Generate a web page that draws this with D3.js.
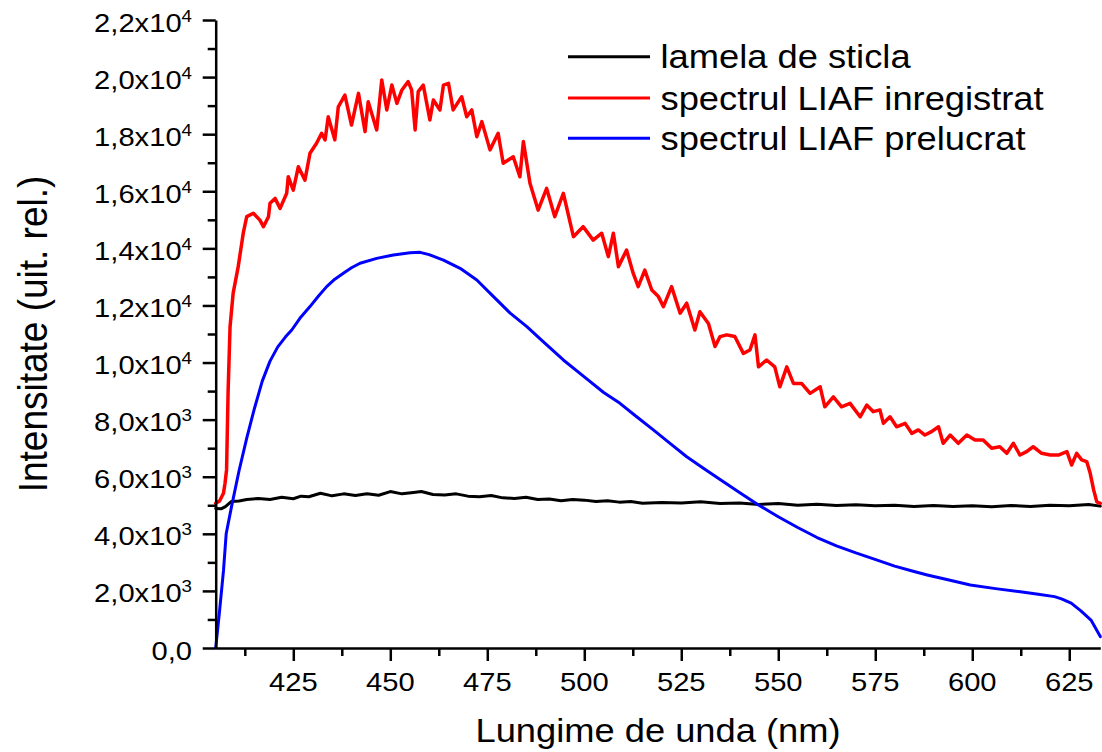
<!DOCTYPE html>
<html><head><meta charset="utf-8">
<script src="https://cdn.jsdelivr.net/npm/d3@7"></script>
<style>
body{margin:0;background:#fff}
svg{display:block;background:#fff}
text{font-family:"Liberation Sans",Arial,sans-serif;fill:#000}
</style>
</head><body>
<svg id="c" width="1102" height="752"></svg>
<script>
// ---------- data ----------
const xDomain = [405, 633];
const yDomain = [0, 22000];
const xMajorTicks = [425, 450, 475, 500, 525, 550, 575, 600, 625];
const xMinorTicks = [412.5, 437.5, 462.5, 487.5, 512.5, 537.5, 562.5, 587.5, 612.5];
const yMajorTicks = [0, 2000, 4000, 6000, 8000, 10000, 12000, 14000, 16000, 18000, 20000, 22000];
const yMinorTicks = [1000, 3000, 5000, 7000, 9000, 11000, 13000, 15000, 17000, 19000, 21000];
const xTitle = "Lungime de unda (nm)";
const yTitle = "Intensitate (uit. rel.)";
const seriesNames = ["lamela de sticla", "spectrul LIAF inregistrat", "spectrul LIAF prelucrat"];
const seriesColors = ["#000000", "#ff0000", "#0000ff"];

const blackSeries = [
[405,4890],[406.5,4880],[407.5,4950],[409,5130],[411,5150],[413,5200],[416,5240],[419,5200],[422,5280],
[425,5230],[427,5320],[429,5300],[432,5420],[435,5330],[438,5400],[441,5340],[444,5400],[447,5350],
[450,5480],[453,5400],[456,5450],[458,5480],[461,5380],[464,5360],[467,5400],[470,5320],[473,5300],
[476,5340],[479,5260],[482,5240],[485,5280],[488,5200],[491,5220],[494,5160],[497,5200],[500,5180],
[503,5130],[506,5160],[509,5110],[512,5130],[515,5070],[520,5100],[525,5080],[530,5120],[535,5060],
[540,5080],[545,5030],[550,5060],[555,5000],[560,5040],[565,4990],[570,5020],[575,4980],[580,5000],
[585,4960],[590,4990],[595,4960],[600,4980],[605,4950],[610,4990],[615,4960],[620,5000],[625,4980],
[630,5030],[633,4970]
];

const redSeries = [
[405,5070],[406,5150],[407,5420],[407.4,5770],[407.8,6240],[408.2,9000],[408.7,11260],[409.5,12430],
[410.8,13360],[412.1,14530],[413,15110],[414.7,15230],[416.4,14990],[417.3,14760],[418.6,15110],
[419,15580],[420.3,15750],[421.6,15400],[423.3,15930],[423.7,16510],[425,16040],[426.3,16860],
[428,16390],[429.3,17330],[431,17680],[432.3,18030],[433.2,17800],[434,18610],[435.7,17800],
[436.6,18960],[438.3,19370],[440,18320],[441.8,19430],[443.5,18090],[444.3,19140],[446.5,18150],
[447.8,19900],[449.1,18850],[450.4,19720],[451.7,19080],[453,19550],[454.6,19840],[455.5,19550],
[456.4,18150],[457.2,19490],[458.5,19720],[460.2,18500],[461.1,19200],[462.8,18850],[463.7,19720],
[465,19780],[466.2,18850],[468.4,19310],[469.7,18610],[471,18850],[472.3,17910],[473.6,18440],
[475.7,17450],[477.8,18030],[479.1,16980],[481.7,17210],[483.4,16510],[484.3,17740],[486,16280],
[488.1,15340],[490.3,16100],[492.4,15110],[494.6,15930],[497.2,14410],[499.7,14760],[502.3,14290],
[504.5,14530],[506.2,13710],[507.5,14530],[508.8,13360],[510.9,13940],[512.6,13130],[513.9,12660],
[515.6,13240],[517.4,12540],[519.1,12310],[520.4,11960],[522.5,12660],[524.7,11730],[526.4,12080],
[528.5,11140],[529.8,11780],[532,11370],[533.7,10560],[535,10910],[536.7,10970],[538.8,10910],
[541,10320],[542.7,10440],[544,10970],[544.9,9850],[547,10090],[549.1,9850],[550.4,9150],
[552.2,9850],[553.9,9270],[556,9270],[558.2,8920],[560.8,9150],[562,8450],[564.2,8800],[566.3,8450],
[568.5,8570],[571.1,8100],[572.8,8510],[574.5,8280],[576.2,8340],[577.1,7870],[578.8,8100],
[580.5,7750],[582.7,7870],[584.4,7520],[586.1,7640],[587.8,7460],[589.5,7580],[591.3,7750],
[592.5,7170],[594.3,7460],[596.4,7170],[598.6,7460],[600.7,7290],[602.8,7290],[605,7000],
[607.1,7050],[608.9,6820],[610.6,7170],[612.3,6760],[614,6880],[615.7,7050],[617.9,6820],
[620.1,6760],[622.2,6760],[624.4,6880],[625.6,6410],[626.9,6820],[628.2,6590],[629.5,6530],
[630.4,6120],[631.3,5530],[632.1,5120],[633,5070]
];

const blueSeries = [
[405,0],[406,1300],[407,2700],[407.7,4000],[409,4900],[411,6200],[413,7350],[415,8400],
[417,9350],[419,10050],[421,10550],[423,10900],[424.6,11140],[426.7,11550],[429.3,11960],[431.5,12330],
[433.6,12660],[435.7,12920],[437.9,13130],[440,13320],[442.2,13480],[446.5,13650],[450.8,13770],
[455.1,13850],[457.7,13860],[460,13780],[463.7,13590],[468,13300],[472.3,12890],[476.6,12310],
[480.9,11730],[485.2,11260],[489.4,10730],[494.6,10090],[500,9500],[505,8950],[509.2,8570],
[513.5,8100],[517.8,7640],[522.1,7170],[526.4,6700],[530.7,6300],[535,5900],[540,5450],[545,5000],
[550,4600],[555,4220],[560,3870],[565,3580],[570,3330],[575.5,3080],[580,2870],[585,2680],
[588.4,2560],[594,2380],[599.5,2210],[606,2080],[612.4,1970],[617,1880],[621.2,1800],[623,1720],
[625.5,1570],[628,1300],[630.6,980],[633,400]
];

// ---------- drawing ----------
const svg = d3.select("#c");
const plotL = 215.7, plotR = 1100.3, plotT = 20, plotB = 648;
const x = d3.scaleLinear().domain(xDomain).range([plotL, plotR]);
const y = d3.scaleLinear().domain(yDomain).range([plotB, plotT]);
const FX = 1.1; // horizontal text stretch
const seriesWidths = [3, 3.5, 3];

const line = d3.line().x(d => x(d[0])).y(d => y(d[1]));
[blackSeries, redSeries, blueSeries].forEach((s, i) => {
  svg.append("path").datum(s).attr("d", line)
    .attr("fill", "none").attr("stroke", seriesColors[i])
    .attr("stroke-width", seriesWidths[i]).attr("stroke-linejoin", "round").attr("stroke-linecap", "round");
});

// axes
function styleAxis(g) {
  g.selectAll("path.domain").attr("stroke", "#000").attr("stroke-width", 2.5);
  g.selectAll(".tick line").attr("stroke", "#000").attr("stroke-width", 2.5);
  g.selectAll(".tick text").remove();
}
const gyMinor = svg.append("g").attr("transform", `translate(${plotL},0)`)
  .call(d3.axisLeft(y).tickValues(yMinorTicks).tickSize(8).tickSizeOuter(0));
gyMinor.select("path.domain").remove(); styleAxis(gyMinor);
const gy = svg.append("g").attr("transform", `translate(${plotL},0)`)
  .call(d3.axisLeft(y).tickValues(yMajorTicks).tickSize(13).tickSizeOuter(0));
styleAxis(gy);

const gxMinor = svg.append("g").attr("transform", `translate(0,${plotB})`)
  .call(d3.axisBottom(x).tickValues(xMinorTicks).tickSize(8).tickSizeOuter(0));
gxMinor.select("path.domain").remove(); styleAxis(gxMinor);
const gx = svg.append("g").attr("transform", `translate(0,${plotB})`)
  .call(d3.axisBottom(x).tickValues(xMajorTicks).tickSize(13).tickSizeOuter(0));
styleAxis(gx);

// y tick labels
yMajorTicks.forEach(v => {
  const g = svg.append("g").attr("transform", `translate(192,${y(v) + 11.5}) scale(${FX},1)`);
  const t = g.append("text").attr("text-anchor", "end").attr("font-size", 26.5);
  if (v === 0) { t.text("0,0"); return; }
  const e = Math.floor(Math.log10(v));
  const m = (v / Math.pow(10, e)).toFixed(1).replace(".", ",");
  t.append("tspan").text(m + "x10");
  t.append("tspan").attr("font-size", 17).attr("dy", -10).text(e);
});

// x tick labels
xMajorTicks.forEach(v => {
  svg.append("g").attr("transform", `translate(${x(v)},690.5) scale(${FX},1)`)
    .append("text").attr("text-anchor", "middle").attr("font-size", 26.5).text(v);
});

// axis titles
svg.append("g").attr("transform", `translate(${(plotL + plotR) / 2},742) scale(${FX},1)`)
  .append("text").attr("text-anchor", "middle").attr("font-size", 33).text(xTitle);
svg.append("g").attr("transform", `translate(47,${(plotT + plotB) / 2}) scale(${FX},1) rotate(-90)`)
  .append("text").attr("text-anchor", "middle").attr("font-size", 37).text(yTitle);

// legend
const legendRowY = [56.7, 98, 138.3];
seriesNames.forEach((n, i) => {
  svg.append("line").attr("x1", 568).attr("x2", 650)
    .attr("y1", legendRowY[i]).attr("y2", legendRowY[i])
    .attr("stroke", seriesColors[i]).attr("stroke-width", 3);
  svg.append("g").attr("transform", `translate(660.5,${legendRowY[i] + 11.5}) scale(${FX},1)`)
    .append("text").attr("font-size", 33).text(n);
});
</script>
</body></html>
